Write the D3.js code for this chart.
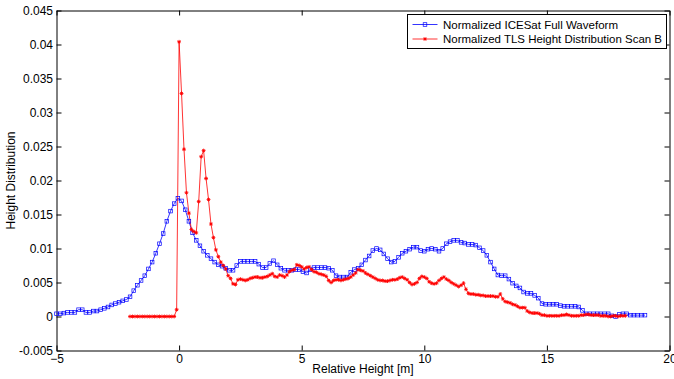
<!DOCTYPE html>
<html>
<head>
<meta charset="utf-8">
<script src="https://cdnjs.cloudflare.com/ajax/libs/d3/7.8.5/d3.min.js"></script>
<style>
  body { margin: 0; background: #fff; }
  svg { display: block; font-family: "Liberation Sans", Arial, sans-serif; }
  .axis text { font-size: 12px; fill: #000; }
  .axis line, .axis path { stroke: #000; }
</style>
</head>
<body>
<div id="chart"></div>
<script>
// --- data ---
// ICESat waveform, one sample every 0.15 m starting at -5 m
const icesatStart = -5;
const icesatStep = 0.15;
const icesatValues = [
  0.0004, 0.0004, 0.0005, 0.0006, 0.0006, 0.0006, 0.0010, 0.0010, 0.0006, 0.0006,
  0.0008, 0.0008, 0.0010, 0.0012, 0.0014, 0.0017, 0.0019, 0.0021, 0.0023, 0.0025,
  0.0029, 0.0038, 0.0046, 0.0053, 0.0060, 0.0070, 0.0080, 0.0093, 0.0107, 0.0122,
  0.0140, 0.0155, 0.0166, 0.0174, 0.0170, 0.0157, 0.0140, 0.0123, 0.0112, 0.0104,
  0.0096, 0.0090, 0.0085, 0.0080, 0.0076, 0.0074, 0.0071, 0.0068, 0.0068, 0.0075,
  0.0081, 0.0081, 0.0081, 0.0081, 0.0081, 0.0077, 0.0072, 0.0072, 0.0078, 0.0082,
  0.0076, 0.0071, 0.0068, 0.0068, 0.0068, 0.0069, 0.0069, 0.0066, 0.0064, 0.0069,
  0.0072, 0.0072, 0.0072, 0.0072, 0.0071, 0.0068, 0.0060, 0.0058, 0.0058, 0.0058,
  0.0065, 0.0069, 0.0071, 0.0076, 0.0083, 0.0089, 0.0097, 0.0100, 0.0098, 0.0092,
  0.0085, 0.0080, 0.0081, 0.0087, 0.0093, 0.0096, 0.0099, 0.0102, 0.0102, 0.0097,
  0.0096, 0.0099, 0.0100, 0.0099, 0.0096, 0.0100, 0.0107, 0.0110, 0.0112, 0.0112,
  0.0109, 0.0108, 0.0106, 0.0106, 0.0105, 0.0101, 0.0097, 0.0090, 0.0080, 0.0070,
  0.0061, 0.0060, 0.0060, 0.0055, 0.0049, 0.0045, 0.0042, 0.0036, 0.0034, 0.0034,
  0.0031, 0.0027, 0.0019, 0.0018, 0.0018, 0.0018, 0.0018, 0.0016, 0.0015, 0.0015,
  0.0015, 0.0015, 0.0014, 0.0009, 0.0004, 0.0004, 0.0004, 0.0004, 0.0004, 0.0004,
  0.0004, 0.0001, 0.0000, 0.0003, 0.0004, 0.0004, 0.0002, 0.0002, 0.0002, 0.0002,
  0.0002
];

// TLS height distribution (scan B), one sample every 0.1 m starting at -2 m
const tlsStart = -2;
const tlsStep = 0.1;
const tlsValues = [
  0, 0, 0, 0, 0, 0, 0, 0, 0, 0,
  0, 0, 0, 0, 0, 0, 0, 0, 0, 0.0010,
  0.0404, 0.0328, 0.0246, 0.0182, 0.0152, 0.0128, 0.0125, 0.0123, 0.0169, 0.0235,
  0.0244, 0.0203, 0.0172, 0.0136, 0.0116, 0.0098, 0.0088, 0.0080, 0.0075, 0.0070,
  0.0060, 0.0056, 0.0048, 0.0047, 0.0054, 0.0055, 0.0054, 0.0053, 0.0054, 0.0056,
  0.0057, 0.0058, 0.0058, 0.0057, 0.0057, 0.0058, 0.0059, 0.0061, 0.0063, 0.0059,
  0.0058, 0.0061, 0.0060, 0.0058, 0.0061, 0.0066, 0.0068, 0.0069, 0.0076, 0.0075,
  0.0073, 0.0070, 0.0072, 0.0073, 0.0069, 0.0066, 0.0065, 0.0063, 0.0062, 0.0061,
  0.0059, 0.0053, 0.0050, 0.0053, 0.0054, 0.0054, 0.0053, 0.0054, 0.0055, 0.0056,
  0.0058, 0.0061, 0.0064, 0.0069, 0.0068, 0.0067, 0.0064, 0.0062, 0.0060, 0.0058,
  0.0056, 0.0054, 0.0053, 0.0053, 0.0052, 0.0052, 0.0053, 0.0054, 0.0054, 0.0055,
  0.0057, 0.0058, 0.0056, 0.0054, 0.0050, 0.0047, 0.0048, 0.0050, 0.0056, 0.0059,
  0.0058, 0.0056, 0.0051, 0.0049, 0.0048, 0.0049, 0.0053, 0.0056, 0.0058, 0.0055,
  0.0053, 0.0050, 0.0048, 0.0046, 0.0044, 0.0046, 0.0049, 0.0040, 0.0034, 0.0033,
  0.0033, 0.0032, 0.0032, 0.0031, 0.0031, 0.0030, 0.0030, 0.0030, 0.0030, 0.0029,
  0.0029, 0.0033, 0.0026, 0.0022, 0.0021, 0.0020, 0.0018, 0.0017, 0.0015, 0.0013,
  0.0013, 0.0013, 0.0008, 0.0006, 0.0005, 0.0005, 0.0005, 0.0004, 0.0002, 0.0002,
  0.0001, 0.0001, 0.0001, 0.0001, 0.0001, 0.0001, 0.0002, 0.0002, 0.0003, 0.0002,
  0.0001, 0.0001, 0.0001, 0.0001, 0.0002, 0.0002, 0.0003, 0.0003, 0.0002, 0.0002,
  0.0002, 0.0002, 0.0001, 0.0001, 0.0001, 0, 0, 0.0001, 0.0001, 0,
  0.0001, 0.0001, 0.0001
];

const seriesNames = ["Normalized ICESat Full Waveform", "Normalized TLS Height Distribution Scan B"];
const xTicks = [-5, 0, 5, 10, 15, 20];
const yTicks = [-0.005, 0, 0.005, 0.01, 0.015, 0.02, 0.025, 0.03, 0.035, 0.04, 0.045];
const yTickLabels = ["-0.005", "0", "0.005", "0.01", "0.015", "0.02", "0.025", "0.03", "0.035", "0.04", "0.045"];

// --- plot sizes ---
const width = 674, height = 379;
const margin = { top: 10.5, right: 4.5, bottom: 28.5, left: 56.5 };
const innerW = width - margin.left - margin.right;
const innerH = height - margin.top - margin.bottom;

const blue = "#0000ff";
const red = "#ff0000";

// build point tables from the sampled values
const icesat = icesatValues.map((v, i) => ({ x: icesatStart + i * icesatStep, y: v }));
const tls = tlsValues.map((v, i) => ({ x: tlsStart + i * tlsStep, y: v }));

// --- scales ---
const x = d3.scaleLinear().domain([-5, 20]).range([0, innerW]);
const y = d3.scaleLinear().domain([-0.005, 0.045]).range([innerH, 0]);

const svg = d3.select("#chart")
  .append("svg")
  .attr("width", width)
  .attr("height", height);

const g = svg.append("g")
  .attr("transform", `translate(${margin.left}, ${margin.top})`);

// --- axes (ticks point inward, box all round) ---
const fmtY = d => yTickLabels[yTicks.indexOf(d)];

g.append("g")
  .attr("class", "axis")
  .attr("transform", `translate(0, ${innerH})`)
  .call(d3.axisBottom(x).tickValues(xTicks).tickSizeInner(-5).tickSizeOuter(0).tickPadding(4));

g.append("g")
  .attr("class", "axis")
  .call(d3.axisTop(x).tickValues(xTicks).tickSizeInner(-5).tickSizeOuter(0).tickFormat(""));

g.append("g")
  .attr("class", "axis")
  .call(d3.axisLeft(y).tickValues(yTicks).tickSizeInner(-5).tickSizeOuter(0).tickPadding(3.5).tickFormat(fmtY));

g.append("g")
  .attr("class", "axis")
  .attr("transform", `translate(${innerW}, 0)`)
  .call(d3.axisRight(y).tickValues(yTicks).tickSizeInner(-5).tickSizeOuter(0).tickFormat(""));

g.selectAll(".axis .domain").attr("stroke-width", 1);

// --- lines ---
const line = d3.line().x(d => x(d.x)).y(d => y(d.y));

const plot = g.append("g").attr("class", "plot");

plot.append("path")
  .datum(icesat)
  .attr("fill", "none")
  .attr("stroke", blue)
  .attr("stroke-width", 0.8)
  .attr("d", line);

plot.append("path")
  .datum(tls)
  .attr("fill", "none")
  .attr("stroke", red)
  .attr("stroke-width", 0.8)
  .attr("d", line);

// --- markers ---
const sq = 3.6;
const starPath = r => `M${-r},0H${r}M0,${-r}V${r}M${-r * 0.7},${-r * 0.7}L${r * 0.7},${r * 0.7}M${-r * 0.7},${r * 0.7}L${r * 0.7},${-r * 0.7}`;

plot.append("g")
  .selectAll("rect")
  .data(icesat)
  .enter().append("rect")
  .attr("x", d => x(d.x) - sq / 2)
  .attr("y", d => y(d.y) - sq / 2)
  .attr("width", sq)
  .attr("height", sq)
  .attr("fill", "none")
  .attr("stroke", blue)
  .attr("stroke-width", 0.7);

plot.append("g")
  .selectAll("path")
  .data(tls)
  .enter().append("path")
  .attr("transform", d => `translate(${x(d.x)}, ${y(d.y)})`)
  .attr("d", starPath(1.9))
  .attr("fill", "none")
  .attr("stroke", red)
  .attr("stroke-width", 0.9);

// --- axis labels ---
svg.append("text")
  .attr("x", margin.left + innerW / 2)
  .attr("y", 373)
  .attr("text-anchor", "middle")
  .style("font-size", "12px")
  .text("Relative Height [m]");

svg.append("text")
  .attr("transform", `translate(15, ${margin.top + innerH / 2}) rotate(-90)`)
  .attr("text-anchor", "middle")
  .style("font-size", "12px")
  .text("Height Distribution");

// --- legend ---
const legend = svg.append("g")
  .attr("transform", "translate(407.5, 14.5)");

legend.append("rect")
  .attr("width", 259)
  .attr("height", 34)
  .attr("fill", "#fff")
  .attr("stroke", "#000")
  .attr("stroke-width", 1);

const rows = legend.selectAll(".legend-row")
  .data(seriesNames)
  .enter().append("g")
  .attr("class", "legend-row")
  .attr("transform", (d, i) => `translate(0, ${10 + i * 14.5})`);

rows.append("line")
  .attr("x1", 5).attr("x2", 30)
  .attr("stroke", (d, i) => i === 0 ? blue : red)
  .attr("stroke-width", 0.8);

rows.filter((d, i) => i === 0).append("rect")
  .attr("x", 17.5 - sq / 2).attr("y", -sq / 2)
  .attr("width", sq).attr("height", sq)
  .attr("fill", "none").attr("stroke", blue).attr("stroke-width", 0.7);

rows.filter((d, i) => i === 1).append("path")
  .attr("transform", "translate(17.5, 0)")
  .attr("d", starPath(1.9))
  .attr("fill", "none").attr("stroke", red).attr("stroke-width", 0.9);

rows.append("text")
  .attr("x", 35.5)
  .attr("dy", "0.35em")
  .style("font-size", "11.5px")
  .attr("textLength", (d, i) => i === 0 ? 175 : 219)
  .attr("lengthAdjust", "spacingAndGlyphs")
  .text(d => d);
</script>
</body>
</html>
